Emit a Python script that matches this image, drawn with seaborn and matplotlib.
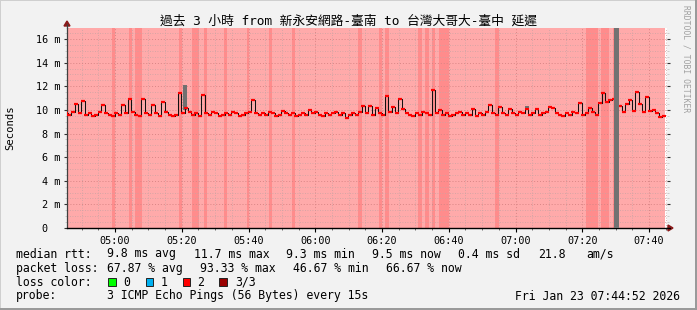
import numpy as np
import pandas as pd
import matplotlib
matplotlib.use("Agg")
import matplotlib.pyplot as plt
import seaborn as sns
from matplotlib.patches import Rectangle, Polygon
from matplotlib.transforms import IdentityTransform
from matplotlib.ticker import MultipleLocator, FixedLocator

# ---------------- data ----------------
title = "過去 3 小時 from 新永安網路-臺南 to 台灣大哥大-臺中 延遲"
start_minute = 44 + 52 / 60.0          # 04:44:52, minutes after 04:00

median_ms = [
    9.7, 9.6, 9.8, 10.47, 9.7, 10.75, 9.6, 9.7, 9.5, 9.6,
    9.8, 10.4, 9.7, 9.6, 9.5, 9.7, 9.6, 10.4, 9.7, 10.9,
    9.8, 9.6, 9.5, 10.9, 9.7, 9.6, 10.4, 9.7, 9.5, 10.7,
    9.8, 9.6, 9.5, 9.6, 11.4, 9.7, 10.2, 9.8, 9.6, 9.7,
    9.5, 11.3, 9.7, 9.6, 9.8, 9.7, 9.5, 9.6, 9.7, 9.6,
    9.8, 9.7, 9.5, 9.6, 9.7, 9.8, 10.8, 9.7, 9.6, 9.7,
    9.6, 9.8, 9.7, 9.5, 9.6, 9.9, 9.7, 9.6, 9.7, 9.5,
    9.6, 9.7, 9.6, 10.0, 9.7, 9.8, 9.6, 9.5, 9.7, 9.6,
    9.7, 9.8, 9.6, 9.7, 9.3, 9.6, 9.7, 9.6, 9.8, 10.35,
    9.7, 10.35, 9.6, 10.2, 9.7, 9.6, 11.2, 9.8, 10.25, 9.7,
    10.9, 10.1, 9.7, 9.6, 9.5, 9.7, 9.6, 9.8, 9.7, 9.6,
    11.7, 9.7, 10.0, 9.6, 9.7, 9.5, 9.6, 9.7, 9.8, 9.6,
    9.7, 9.6, 10.1, 9.5, 9.7, 9.6, 9.8, 10.45, 9.7, 9.6,
    10.25, 9.7, 9.6, 10.05, 9.7, 9.6, 9.8, 9.7, 10.1, 9.6,
    9.7, 10.1, 9.6, 9.7, 9.8, 10.25, 10.2, 9.7, 9.6, 9.5,
    9.7, 9.6, 9.8, 9.7, 10.55, 9.6, 9.7, 10.2, 9.8, 9.6,
    10.6, 11.4, 10.7, 10.8, 10.9, np.nan, 10.3, 9.8, 10.5, 10.85,
    9.9, 11.55, 10.5, 9.8, 11.1, 9.9, 10.0, 9.7, 9.4, 9.5,
]

# heavier-loss background bands (minutes after start)
band_start = [14.1, 19.2, 21.0, 34.2, 38.1, 41.7, 47.7, 54.6, 61.2, 68.1, 87.8,
              94.1, 95.9, 105.8, 107.9, 110.0, 112.1, 128.9, 156.4, 160.9, 164.2]
band_end = [15.0, 20.1, 23.1, 35.1, 40.2, 42.6, 48.6, 55.2, 62.1, 69.0, 89.0,
            95.0, 97.1, 107.0, 109.1, 110.9, 115.1, 130.1, 160.0, 163.0, 164.8]
# total loss (unknown) band
gap_start, gap_end = 164.7, 166.0

# smoke bars
smoke_pos = [36.0, 138.5]
smoke_lo = [10.0, 10.0]
smoke_hi = [12.1, 10.35]

xtick_minutes = [60, 80, 100, 120, 140, 160, 180, 200, 220]
xtick_labels = ["05:00", "05:20", "05:40", "06:00", "06:20", "06:40", "07:00", "07:20", "07:40"]
ytick_values = [0, 2, 4, 6, 8, 10, 12, 14, 16]
ytick_labels = ["0  ", "2 m", "4 m", "6 m", "8 m", "10 m", "12 m", "14 m", "16 m"]

legend_lines = [
    [(16, "median rtt:"), (107, "9.8 ms avg"), (194, "11.7 ms max"), (286, "9.3 ms min"),
     (372, "9.5 ms now"), (458, "0.4 ms sd"), (538, "21.8"), (586, "am/s")],
    [(16, "packet loss:"), (107, "67.87 % avg"), (200, "93.33 % max"), (293, "46.67 % min"),
     (386, "66.67 % now")],
]
loss_labels = ["0", "1", "2", "3/3"]
loss_colors = ["#00ff00", "#00b0f0", "#ff0000", "#990000"]
probe_text = "3 ICMP Echo Pings (56 Bytes) every 15s"
stamp_text = "Fri Jan 23 07:44:52 2026"

# ---------------- figure ----------------
sns.set_theme(style="white")
plt.rcParams['font.family'] = ['DejaVu Sans Mono', 'Noto Sans CJK TC']

W, H = 697, 310
BG = "#f2f2f2"
fig = plt.figure(figsize=(W / 100, H / 100), dpi=100, facecolor=BG)

L, R, T, B = 67, 667, 28, 228
ax = fig.add_axes([L / W, 1 - B / H, (R - L) / W, (B - T) / H])
ax.set_facecolor("white")

xmin = 60 - (115 - L) / 3.3375
xmax = 60 + (R - 115) / 3.3375
end_minute = start_minute + len(median_ms)

df = pd.DataFrame({
    "t": start_minute + np.arange(len(median_ms)) + 0.5,
    "median": median_ms,
})

# background loss areas
ax.axvspan(start_minute, end_minute, color="#ffaaaa", lw=0, zorder=0.2)
for s, e in zip(band_start, band_end):
    ax.axvspan(start_minute + s, start_minute + e, color="#ff8c8c", lw=0, zorder=0.3)

ax.set_axisbelow("line")
ax.grid(which="minor", color="#c9a3a3", linestyle=(0, (1, 2)), lw=0.6)
ax.grid(which="major", color="#d98585", linestyle=(0, (1, 2)), lw=0.7)

# smoke
ax.bar([start_minute + p for p in smoke_pos], np.array(smoke_hi) - np.array(smoke_lo),
       bottom=smoke_lo, width=1.2, color="#707070", lw=0, zorder=1.8)

sns.lineplot(data=df, x="t", y="median", ax=ax, color="#111111", lw=0.75,
             drawstyle="steps-mid", estimator=None, zorder=2.5)
sns.scatterplot(data=df, x="t", y="median", ax=ax, color="#ff0000", marker="_",
                s=9, linewidth=1.6, zorder=3)

ax.axvspan(start_minute + gap_start, start_minute + gap_end, color="#727272", lw=0, zorder=3.5)

ax.set_xlim(xmin, xmax)
ax.set_ylim(0, 16 + (228 - 28 - 189) / 11.8125)
ax.xaxis.set_major_locator(FixedLocator(xtick_minutes))
ax.xaxis.set_minor_locator(MultipleLocator(5))
ax.yaxis.set_major_locator(FixedLocator(ytick_values))
ax.yaxis.set_minor_locator(MultipleLocator(0.5))
ax.set_xticklabels(xtick_labels)
ax.set_yticklabels(ytick_labels)
ax.set_xlabel("")
ax.set_ylabel("")

ax.tick_params(axis="x", which="major", direction="out", length=3, width=0.8, color="black",
               labelsize=7.3, pad=2.5, labelcolor="black", bottom=True)
ax.tick_params(axis="x", which="minor", direction="out", length=1.5, width=0.6, color="#555555", bottom=True)
ax.tick_params(axis="y", which="major", direction="out", length=2.5, width=0.8, color="#333333",
               labelsize=7.3, pad=2.5, labelcolor="black", left=True, right=True)
ax.tick_params(axis="y", which="minor", direction="out", length=1.5, width=0.5, color="#bbbbbb",
               left=True, right=True)

for sp in ["top", "right"]:
    ax.spines[sp].set_visible(False)
ax.spines["left"].set_color("#404040")
ax.spines["left"].set_linewidth(0.9)
ax.spines["bottom"].set_color("black")
ax.spines["bottom"].set_linewidth(1.0)

ident = IdentityTransform()


def px(x, y):
    return (x, H - y)


# axis extensions + arrows
fig.add_artist(plt.Line2D([px(L, 28)[0], px(L, 24)[0]], [px(L, 28)[1], px(L, 24)[1]],
                          color="#404040", lw=0.9, transform=ident))
fig.add_artist(plt.Line2D([R, 670], [H - B, H - B], color="black", lw=1.0, transform=ident))
fig.add_artist(Polygon([px(64, 26), px(70, 26), px(67, 21)], closed=True, color="#8b1a1a",
                       transform=ident))
fig.add_artist(Polygon([px(668, 225), px(668, 231), px(673, 228)], closed=True, color="#8b1a1a",
                       transform=ident))

# title and side texts
fig.text(348 / W, 1 - 21 / H, title, ha="center", va="center", fontsize=9.2, color="black")
fig.text(10 / W, 1 - 128 / H, "Seconds", rotation=90, ha="center", va="center",
         fontsize=7.6, color="black")
fig.text(686 / W, 1 - 59 / H, "RRDTOOL / TOBI OETIKER", rotation=270, ha="center", va="center",
         fontsize=5.8, color="#a0a0a0")

# legend text
FS = 8.3
ys = [254, 268.3]
for yy, items in zip(ys, legend_lines):
    for x, s in items:
        fig.text(x / W, 1 - yy / H, s, ha="left", va="center", fontsize=FS, color="black")

fig.text(16 / W, 1 - 282.3 / H, "loss color:", ha="left", va="center", fontsize=FS, color="black")
box_x = [108.3, 145.7, 182.7, 219.0]
lab_x = [123.3, 161.0, 197.3, 235.0]
for bx, lx, lab, col in zip(box_x, lab_x, loss_labels, loss_colors):
    fig.add_artist(Rectangle((bx, H - 286), 7.7, 7.7, facecolor=col, edgecolor="#222222",
                             lw=0.7, transform=ident))
    fig.text(lx / W, 1 - 282.3 / H, lab, ha="left", va="center", fontsize=FS, color="black")

fig.text(16 / W, 1 - 296 / H, "probe:", ha="left", va="center", fontsize=FS, color="black")
fig.text(107 / W, 1 - 296 / H, probe_text, ha="left", va="center", fontsize=FS, color="black")
fig.text(680 / W, 1 - 296 / H, stamp_text, ha="right", va="center", fontsize=FS, color="black")

# outer frame
fig.add_artist(Rectangle((0, H - 1), W, 1, color="#cfcfcf", lw=0, transform=ident))
fig.add_artist(Rectangle((0, 0), 1, H, color="#cfcfcf", lw=0, transform=ident))
fig.add_artist(Rectangle((0, 0), W, 2, color="#9a9a9a", lw=0, transform=ident))
fig.add_artist(Rectangle((W - 2, 0), 2, H, color="#9a9a9a", lw=0, transform=ident))

fig.savefig("out.png", dpi=100, facecolor=BG)
